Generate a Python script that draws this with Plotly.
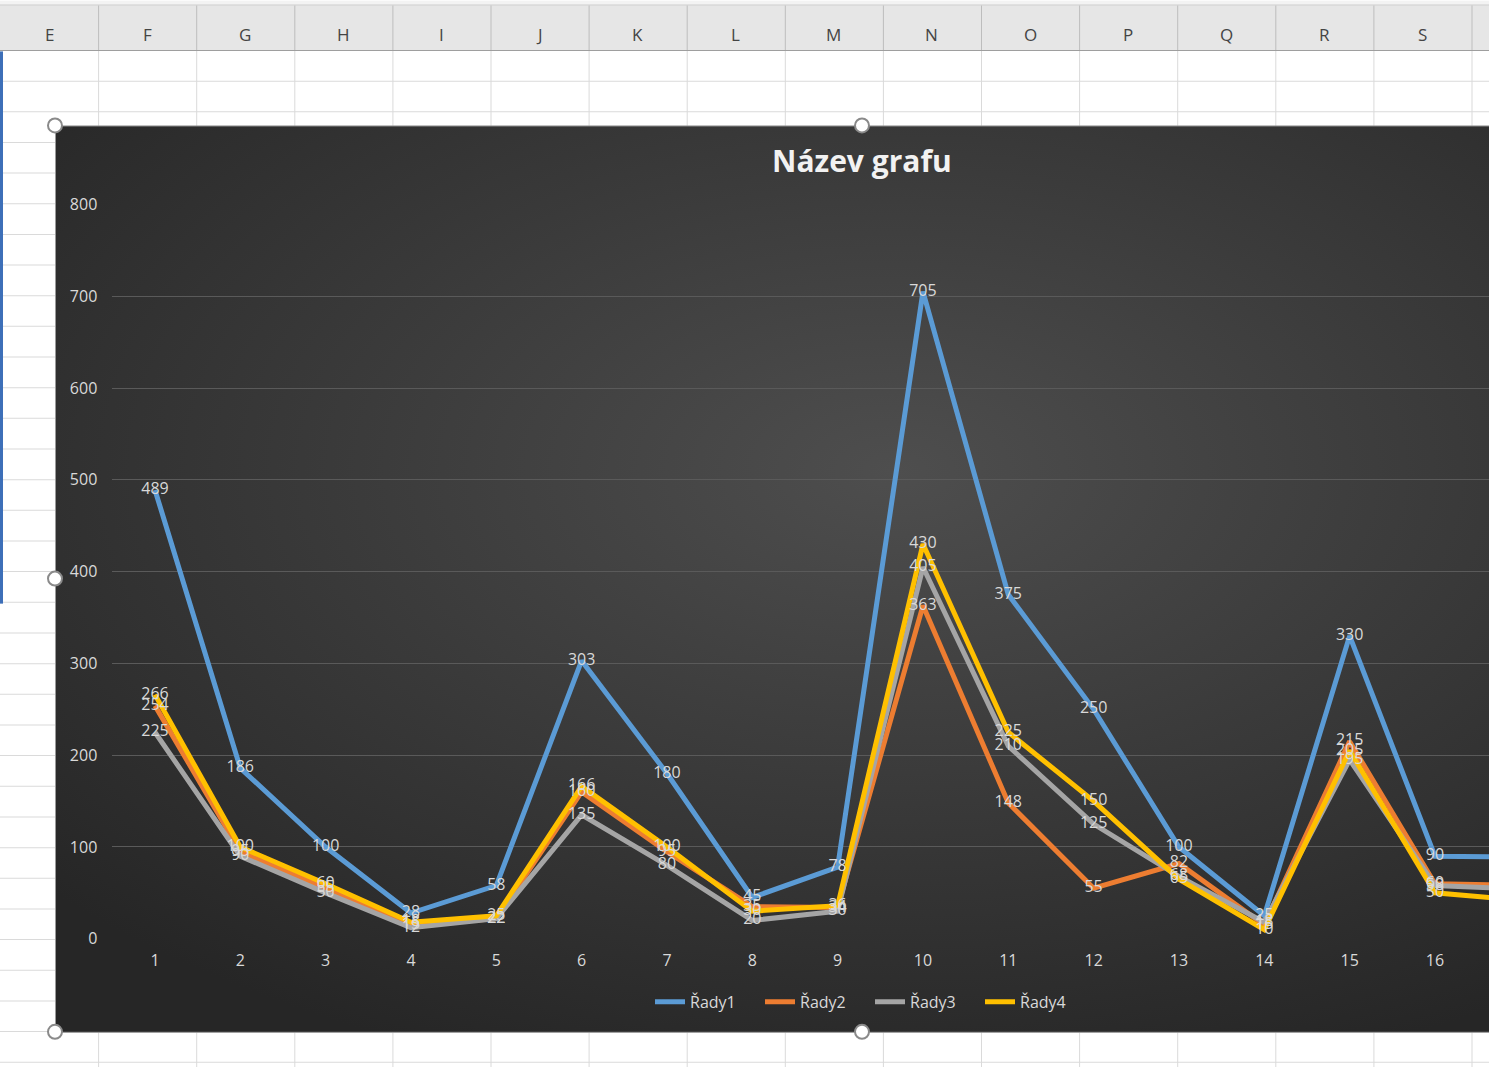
"""Excel-style line chart "Název grafu" recreated in Plotly."""

import base64

import plotly.graph_objects as go

W, H = 1489, 1067

categories = list(range(1, 18))
series_names = ["Řady1", "Řady2", "Řady3", "Řady4"]
rady1 = [489, 186, 100, 28, 58, 303, 180, 45, 78, 705, 375, 250, 100, 25, 330, 90, 89]
rady2 = [254, 95, 55, 15, 22, 160, 95, 35, 34, 363, 148, 55, 82, 15, 215, 60, 58]
rady3 = [225, 90, 50, 12, 22, 135, 80, 20, 30, 405, 210, 125, 68, 18, 195, 58, 54]
rady4 = [266, 100, 60, 18, 25, 166, 100, 30, 36, 430, 225, 150, 65, 10, 205, 50, 42]
column_letters = ["E", "F", "G", "H", "I", "J", "K", "L", "M", "N", "O", "P", "Q", "R", "S"]

COLORS = ["#5b9bd5", "#ed7d31", "#a5a5a5", "#ffc000"]
TEXT = "#d9d9d9"
FONT = "Open Sans"

# the captured page lands slightly squeezed (y_shot = 10.6 + 0.979 * y_page),
# so vertical positions are given in screenshot pixels and converted here
SHOT_TOP, SHOT_SCALE = 10.6, 0.979


def fy(y_px: float) -> float:
    """Screenshot pixel row -> paper fraction."""
    return 1 - (y_px - SHOT_TOP) / SHOT_SCALE / H


def sheet_background() -> str:
    """Spreadsheet grid + chart box with radial gradient, as an SVG data URI."""
    col_w = 98.1
    row_h = 30.65
    parts = [
        f'<svg xmlns="http://www.w3.org/2000/svg" width="{W}" height="{H}" '
        f'viewBox="0 0 {W} {H}" preserveAspectRatio="none">',
        '<defs><radialGradient id="g" cx="52%" cy="38%" r="70%">'
        '<stop offset="0%" stop-color="#4e4e4e"/><stop offset="100%" stop-color="#262626"/>'
        "</radialGradient></defs>",
        f'<rect x="0" y="0" width="{W}" height="{H}" fill="#ffffff"/>',
        f'<rect x="0" y="0" width="{W}" height="4" fill="#f3f3f3"/>',
        f'<rect x="0" y="5" width="{W}" height="45" fill="#e6e6e6"/>',
        f'<line x1="0" y1="4.5" x2="{W}" y2="4.5" stroke="#c6c6c6"/>',
    ]
    y = 50 + row_h
    while y < H:
        parts.append(f'<line x1="0" y1="{y:.1f}" x2="{W}" y2="{y:.1f}" stroke="#dadada"/>')
        y += row_h
    for i in range(1, len(column_letters) + 1):
        x = 0.5 + i * col_w
        parts.append(f'<line x1="{x:.1f}" y1="5" x2="{x:.1f}" y2="50" stroke="#bdbdbd"/>')
        parts.append(f'<line x1="{x:.1f}" y1="50" x2="{x:.1f}" y2="{H}" stroke="#dadada"/>')
    parts.append(f'<line x1="0" y1="50" x2="{W}" y2="50" stroke="#9e9e9e"/>')
    parts.append('<rect x="0" y="51" width="3" height="552" fill="#3d6fb8"/>')
    parts.append('<rect x="55.5" y="125.5" width="1614" height="906" fill="url(#g)" stroke="#9a9a9a"/>')
    for cx, cy in [(55, 125), (862, 125), (55, 578), (55, 1031), (862, 1031)]:
        parts.append(
            f'<circle cx="{cx}" cy="{cy}" r="7" fill="#ffffff" stroke="#8a8a8a" stroke-width="2"/>'
        )
    parts.append("</svg>")
    svg = "".join(parts)
    return "data:image/svg+xml;base64," + base64.b64encode(svg.encode("utf-8")).decode("ascii")


all_series = [rady1, rady2, rady3, rady4]

fig = go.Figure()
for name, values, color in zip(series_names, all_series, COLORS):
    fig.add_trace(
        go.Scatter(
            x=categories,
            y=values,
            name=name,
            mode="lines",
            line=dict(color=color, width=5),
            hoverinfo="skip",
        )
    )
# data labels drawn after every line, like Excel does
for values in all_series:
    fig.add_trace(
        go.Scatter(
            x=categories,
            y=values,
            mode="text",
            text=[str(v) for v in values],
            textposition="middle center",
            textfont=dict(family=FONT, size=16, color=TEXT),
            showlegend=False,
            hoverinfo="skip",
        )
    )

# letters in the spreadsheet column header
for i, letter in enumerate(column_letters):
    fig.add_annotation(
        text=letter,
        x=(49 + i * 98.1) / W,
        y=fy(34),
        xref="paper",
        yref="paper",
        xanchor="center",
        yanchor="middle",
        showarrow=False,
        font=dict(family=FONT, size=17, color="#444444"),
    )

fig.add_annotation(
    text="<b>Název grafu</b>",
    x=862 / W,
    y=fy(160),
    xref="paper",
    yref="paper",
    xanchor="center",
    yanchor="middle",
    showarrow=False,
    font=dict(family=FONT, size=30, color="#f2f2f2"),
)

fig.update_layout(
    width=W,
    height=H,
    autosize=False,
    margin=dict(l=0, r=0, t=0, b=0),
    paper_bgcolor="#ffffff",
    plot_bgcolor="rgba(0,0,0,0)",
    images=[
        dict(
            source=sheet_background(),
            xref="paper",
            yref="paper",
            x=0,
            y=fy(0),
            sizex=1,
            sizey=1 / SHOT_SCALE,
            xanchor="left",
            yanchor="top",
            sizing="stretch",
            layer="below",
        )
    ],
    xaxis=dict(
        domain=[112.3 / W, 1],
        range=[0.5, 1 + (W - 155) / 85.33],
        tickvals=categories,
        ticktext=[str(c) for c in categories],
        showgrid=False,
        zeroline=False,
        showline=False,
        ticks="",
        ticklabelstandoff=10,
        tickfont=dict(family=FONT, size=16, color=TEXT),
    ),
    yaxis=dict(
        domain=[fy(938), fy(204)],
        range=[0, 800],
        dtick=100,
        showgrid=True,
        gridcolor="#5a5a5a",
        gridwidth=1,
        zeroline=False,
        showline=False,
        ticks="",
        ticklabelstandoff=14,
        tickfont=dict(family=FONT, size=16, color=TEXT),
    ),
    legend=dict(
        orientation="h",
        x=870 / W,
        xanchor="center",
        y=fy(1001),
        yanchor="middle",
        bgcolor="rgba(0,0,0,0)",
        font=dict(family=FONT, size=16, color=TEXT),
        itemwidth=30,
        entrywidth=65,
    ),
)

pin_page = (
    "document.documentElement.style.margin='0';"
    "document.body.style.margin='0';"
    "document.body.style.overflow='hidden';"
    "var gd=document.getElementById('{plot_id}');"
    "gd.style.position='fixed';gd.style.left='0';gd.style.top='0';"
)
fig.write_html("out.html", config={"displayModeBar": False}, post_script=pin_page)
